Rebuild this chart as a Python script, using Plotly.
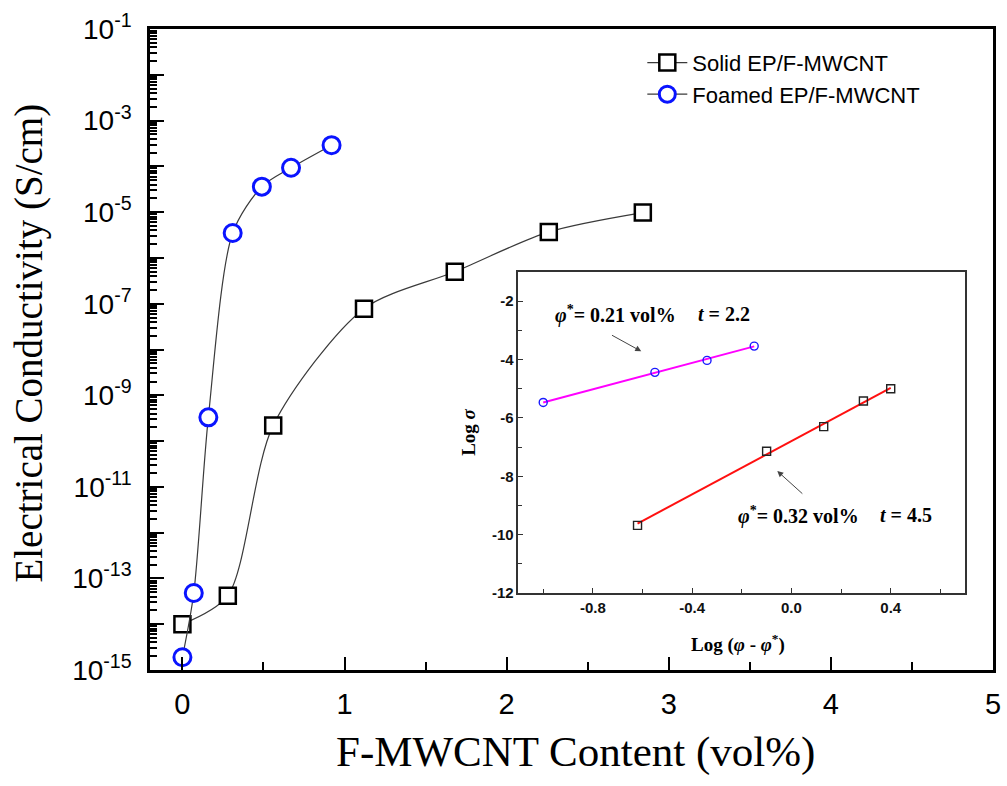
import plotly.graph_objects as go

# ---------------- data ----------------
solid_x = [0.0, 0.28, 0.56, 1.12, 1.68, 2.26, 2.84]
solid_y = [1.0e-14, 4.2e-14, 2.2e-10, 7.8e-8, 5.0e-7, 3.7e-6, 9.8e-6]

foam_x = [0.0, 0.07, 0.16, 0.31, 0.49, 0.67, 0.92]
foam_y = [1.9e-15, 4.8e-14, 3.3e-10, 3.5e-6, 3.6e-5, 9.3e-5, 2.9e-4]

inset_foam_x = [-1.0, -0.55, -0.34, -0.15]
inset_foam_y = [-5.47, -4.44, -4.03, -3.54]
inset_solid_x = [-0.62, -0.10, 0.13, 0.29, 0.40]
inset_solid_y = [-9.68, -7.14, -6.30, -5.42, -5.00]

foam_fit_x = [-1.0, -0.15]
foam_fit_y = [-5.47, -3.55]
solid_fit_x = [-0.62, 0.40]
solid_fit_y = [-9.62, -4.97]

y_major_exp = list(range(-15, 0))
y_tick_text = [("10<sup>%d</sup>" % e) if e % 2 != 0 else "" for e in y_major_exp]
x_tick_vals = [0, 1, 2, 3, 4, 5]
x_tick_text = ["0", "1", "2", "3", "4", "5"]
inset_x_ticks = [-0.8, -0.4, 0.0, 0.4]
inset_x_text = ["-0.8", "-0.4", "0.0", "0.4"]
inset_y_ticks = [-12, -10, -8, -6, -4, -2]
inset_y_text = ["-12", "-10", "-8", "-6", "-4", "-2"]

SANS = "Liberation Sans, Arial, sans-serif"
SERIF = "Liberation Serif, Times New Roman, serif"

fig = go.Figure()

fig.add_trace(go.Scatter(
    x=solid_x, y=solid_y, mode="lines+markers", name="Solid EP/F-MWCNT",
    line=dict(shape="spline", smoothing=0.8, color="#3a3a3a", width=1.2),
    marker=dict(symbol="square", size=16, color="white", line=dict(color="black", width=2.5)),
    xaxis="x", yaxis="y"))
fig.add_trace(go.Scatter(
    x=foam_x, y=foam_y, mode="lines+markers", name="Foamed EP/F-MWCNT",
    line=dict(shape="spline", smoothing=0.8, color="#3a3a3a", width=1.2),
    marker=dict(symbol="circle", size=17, color="white", line=dict(color="#0a14ff", width=3)),
    xaxis="x", yaxis="y"))

# inset
fig.add_trace(go.Scatter(x=foam_fit_x, y=foam_fit_y, mode="lines", showlegend=False,
                         line=dict(color="#ff00ff", width=2), xaxis="x2", yaxis="y2"))
fig.add_trace(go.Scatter(x=solid_fit_x, y=solid_fit_y, mode="lines", showlegend=False,
                         line=dict(color="#ff1010", width=2), xaxis="x2", yaxis="y2"))
fig.add_trace(go.Scatter(x=inset_foam_x, y=inset_foam_y, mode="markers", showlegend=False,
                         marker=dict(symbol="circle", size=8, color="rgba(0,0,0,0)",
                                     line=dict(color="#1a1aff", width=1.4)),
                         xaxis="x2", yaxis="y2"))
fig.add_trace(go.Scatter(x=inset_solid_x, y=inset_solid_y, mode="markers", showlegend=False,
                         marker=dict(symbol="square", size=8, color="rgba(0,0,0,0)",
                                     line=dict(color="#222", width=1.4)),
                         xaxis="x2", yaxis="y2"))

minor_y = [m * 10.0 ** e for e in range(-15, -1) for m in range(2, 10)]

fig.update_layout(
    width=1007, height=786,
    margin=dict(l=150, r=6, t=29, b=116),
    paper_bgcolor="white", plot_bgcolor="white",
    showlegend=True,
    legend=dict(x=0.584, y=0.98, xanchor="left", yanchor="top",
                font=dict(family=SANS, size=22, color="black"),
                bgcolor="rgba(0,0,0,0)", itemwidth=40, tracegroupgap=0),
    xaxis=dict(range=[-0.2, 5.0], domain=[0, 1], showline=True, linecolor="black", linewidth=2.5,
               mirror=True, ticks="inside", ticklen=13, tickwidth=2, tickcolor="black",
               tickmode="array", tickvals=x_tick_vals, ticktext=x_tick_text,
               tickfont=dict(family=SANS, size=29, color="black"), ticklabelstandoff=6,
               minor=dict(ticks="inside", ticklen=8, tickwidth=2, tickcolor="black",
                          tickmode="array", tickvals=[0.5, 1.5, 2.5, 3.5, 4.5]),
               showgrid=False, zeroline=False),
    yaxis=dict(type="log", range=[-15, -1], domain=[0, 1], showline=True, linecolor="black",
               linewidth=2.5, mirror=True, ticks="inside", ticklen=14, tickwidth=2,
               tickcolor="black", tickmode="array",
               tickvals=[10.0 ** e for e in y_major_exp], ticktext=y_tick_text,
               tickfont=dict(family=SANS, size=28, color="black"), ticklabelstandoff=10,
               minor=dict(ticks="inside", ticklen=7, tickwidth=1.5, tickcolor="black",
                          tickmode="array", tickvals=minor_y),
               showgrid=False, zeroline=False),
    xaxis2=dict(range=[-1.1, 0.7], domain=[0.437, 0.967], anchor="y2", showline=True,
                linecolor="#333", linewidth=1.5, mirror=True, ticks="inside", ticklen=5,
                tickwidth=1.2, tickcolor="#333", tickmode="array", tickvals=inset_x_ticks,
                ticktext=inset_x_text,
                tickfont=dict(family=SANS, size=15, color="#111", weight="bold"),
                minor=dict(ticks="inside", ticklen=4, tickwidth=1.2, tickcolor="#333",
                           tickmode="array", tickvals=[-1.0, -0.6, -0.2, 0.2, 0.6]),
                showgrid=False, zeroline=False),
    yaxis2=dict(range=[-12, -1], domain=[0.120, 0.621], anchor="x2", showline=True,
                linecolor="#333", linewidth=1.5, mirror=True, ticks="inside", ticklen=5,
                tickwidth=1.2, tickcolor="#333", tickmode="array", tickvals=inset_y_ticks,
                ticktext=inset_y_text,
                tickfont=dict(family=SANS, size=15, color="#111", weight="bold"),
                minor=dict(ticks="inside", ticklen=4, tickwidth=1.2, tickcolor="#333",
                           tickmode="array", tickvals=[-11, -9, -7, -5, -3]),
                showgrid=False, zeroline=False),
)

ann = []
# main axis titles
ann.append(dict(text="Electrical Conductivity (S/cm)", xref="paper", yref="paper",
                x=-0.143, y=0.51, xanchor="center", yanchor="middle", textangle=-90,
                showarrow=False, font=dict(family=SERIF, size=39, color="black")))
ann.append(dict(text="F-MWCNT Content (vol%)", xref="paper", yref="paper",
                x=0.505, y=-0.128, xanchor="center", yanchor="middle", showarrow=False,
                font=dict(family=SERIF, size=43, color="black")))
# inset axis titles
ann.append(dict(text="Log <i>σ</i>", xref="paper", yref="paper", x=0.378, y=0.371,
                xanchor="center", yanchor="middle", textangle=-90, showarrow=False,
                font=dict(family=SERIF, size=19, color="black", weight="bold")))
ann.append(dict(text="Log (<i>φ</i> - <i>φ</i><sup>*</sup>)", xref="paper", yref="paper",
                x=0.697, y=0.042, xanchor="center", yanchor="middle", showarrow=False,
                font=dict(family=SERIF, size=19, color="black", weight="bold")))
# inset labels
tf = dict(family=SERIF, size=20, color="black", weight="bold")
ann.append(dict(text="<i>φ</i><sup>*</sup>= 0.21 vol%", xref="x2", yref="y2", x=-0.96, y=-2.45,
                xanchor="left", yanchor="middle", showarrow=False, font=tf))
ann.append(dict(text="<i>t</i> = 2.2", xref="x2", yref="y2", x=-0.385, y=-2.45,
                xanchor="left", yanchor="middle", showarrow=False, font=tf))
ann.append(dict(text="<i>φ</i><sup>*</sup>= 0.32 vol%", xref="x2", yref="y2", x=-0.225, y=-9.33,
                xanchor="left", yanchor="middle", showarrow=False, font=tf))
ann.append(dict(text="<i>t</i> = 4.5", xref="x2", yref="y2", x=0.35, y=-9.33,
                xanchor="left", yanchor="middle", showarrow=False, font=tf))
# arrows
ann.append(dict(text="", xref="x2", yref="y2", axref="x2", ayref="y2",
                x=-0.605, y=-3.72, ax=-0.729, ay=-3.14, showarrow=True,
                arrowhead=2, arrowsize=1.2, arrowwidth=1, arrowcolor="#444"))
ann.append(dict(text="", xref="x2", yref="y2", axref="x2", ayref="y2",
                x=-0.057, y=-7.82, ax=0.05, ay=-8.64, showarrow=True,
                arrowhead=2, arrowsize=1.2, arrowwidth=1, arrowcolor="#444"))
fig.update_layout(annotations=ann)

fig.write_html("out.html")
